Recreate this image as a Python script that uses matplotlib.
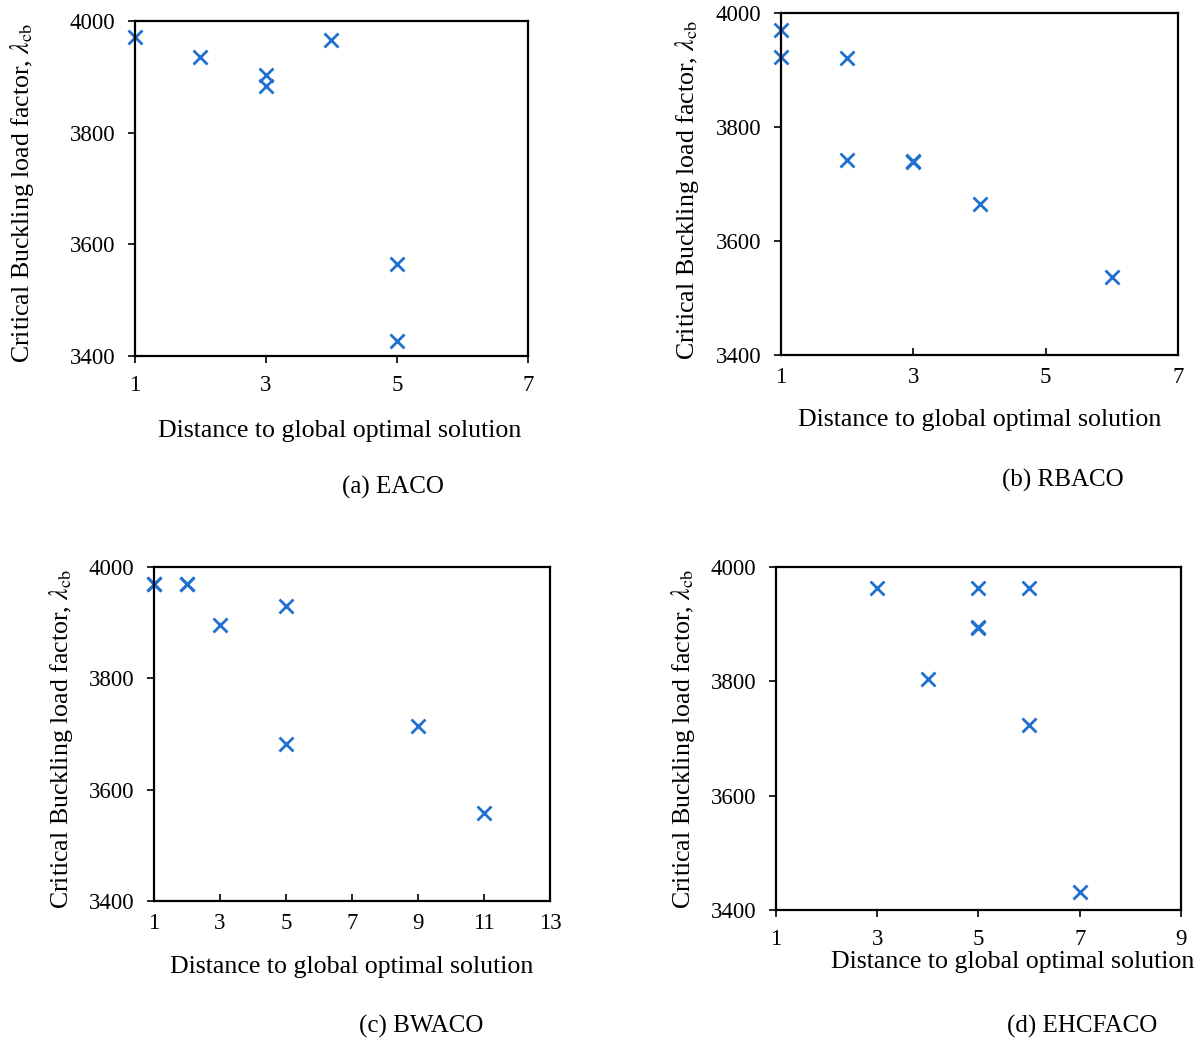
"""
Critical buckling load factor vs distance to global optimum, four ACO variants.
"""

import matplotlib

matplotlib.use("Agg")
import matplotlib.pyplot as plt

plt.rcParams["font.family"] = ["Liberation Serif", "DejaVu Serif"]
plt.rcParams["mathtext.fontset"] = "stix"

MARKER_COLOR = "#1f70cf"

# (a) EACO
eaco_dist = [1, 2, 3, 3, 4, 5, 5]
eaco_lcb = [3971, 3935, 3903, 3883, 3966, 3565, 3427]

# (b) RBACO
rbaco_dist = [1, 1, 2, 2, 3, 3, 4, 6]
rbaco_lcb = [3970, 3923, 3921, 3742, 3740, 3738, 3665, 3537]

# (c) BWACO
bwaco_dist = [1, 1, 2, 2, 3, 5, 5, 9, 11]
bwaco_lcb = [3969, 3970, 3969, 3970, 3896, 3930, 3682, 3714, 3558]

# (d) EHCFACO
ehcfaco_dist = [3, 4, 5, 5, 5, 6, 6, 7]
ehcfaco_lcb = [3963, 3804, 3963, 3893, 3895, 3963, 3724, 3432]

y_ticks = [3400, 3600, 3800, 4000]

panels = [
    # data, x ticks, axes rect (fig fraction), xlabel pos, ylabel pos, caption pos, caption
    (eaco_dist, eaco_lcb, [1, 3, 5, 7], [0.1121, 0.658, 0.3264, 0.3218],
     (0.282, 0.586), (0.018, 0.815), (0.326, 0.532), "(a) EACO", "out"),
    (rbaco_dist, rbaco_lcb, [1, 3, 5, 7], [0.6487, 0.659, 0.3297, 0.3285],
     (0.814, 0.597), (0.571, 0.818), (0.883, 0.538), "(b) RBACO", "in"),
    (bwaco_dist, bwaco_lcb, [1, 3, 5, 7, 9, 11, 13], [0.1279, 0.1345, 0.3289, 0.3208],
     (0.292, 0.071), (0.051, 0.290), (0.350, 0.014), "(c) BWACO", "in"),
    (ehcfaco_dist, ehcfaco_lcb, [1, 3, 5, 7, 9], [0.6445, 0.1258, 0.3364, 0.3295],
     (0.841, 0.076), (0.567, 0.290), (0.899, 0.014), "(d) EHCFACO", "out"),
]


def draw_panel(fig, dist, lcb, xticks, rect, xlab_pos, ylab_pos, cap_pos, caption, xdir):
    ax = fig.add_axes(rect)
    ax.plot(dist, lcb, linestyle="none", marker="x", markersize=10.5,
            markeredgewidth=2.0, color=MARKER_COLOR, clip_on=False)
    ax.set_xlim(xticks[0], xticks[-1])
    ax.set_ylim(3400, 4000)
    ax.set_xticks(xticks)
    ax.set_yticks(y_ticks)
    ax.tick_params(axis="x", direction=xdir, length=5, width=1.2, labelsize=16.5, pad=9)
    ax.tick_params(axis="y", direction="out", length=5, width=1.2, labelsize=16.5, pad=9)
    for spine in ax.spines.values():
        spine.set_linewidth(1.6)
    fig.text(xlab_pos[0], xlab_pos[1], "Distance to global optimal solution",
             ha="center", va="center", fontsize=18.6)
    fig.text(ylab_pos[0], ylab_pos[1], r"Critical Buckling load factor, $\lambda_{\rm cb}$",
             ha="center", va="center", rotation=90, fontsize=18.6)
    fig.text(cap_pos[0], cap_pos[1], caption, ha="center", va="center", fontsize=18)


def main() -> None:
    fig = plt.figure(figsize=(12.04, 10.41), dpi=100)
    for p in panels:
        draw_panel(fig, *p)
    fig.savefig("out.png", dpi=100, facecolor="white")
    plt.close(fig)


if __name__ == "__main__":
    main()
